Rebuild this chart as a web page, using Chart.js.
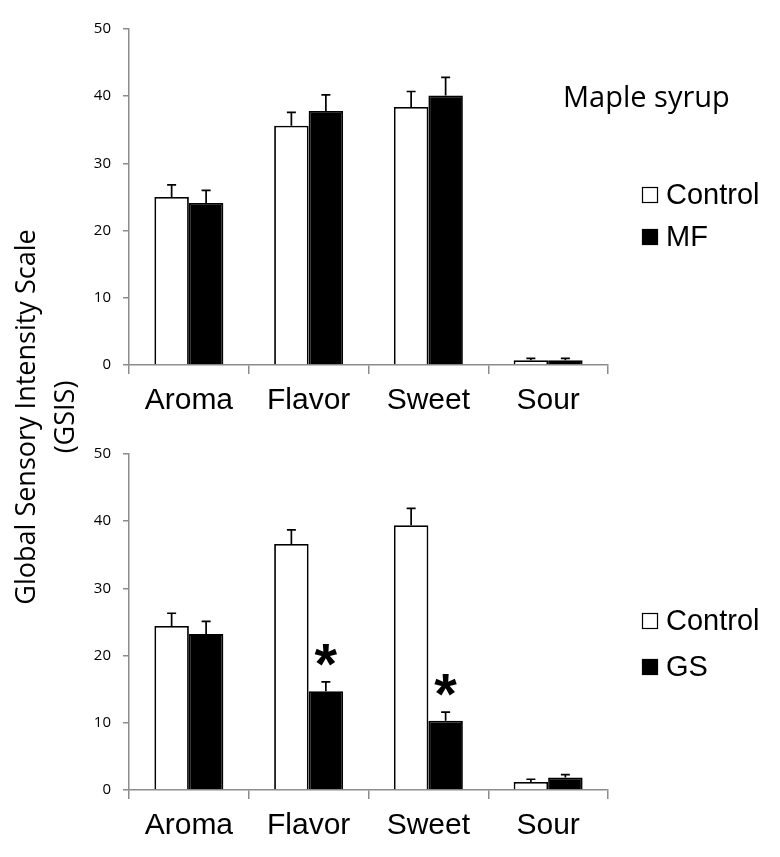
<!DOCTYPE html>
<html><head><meta charset="utf-8">
<script src="https://cdn.jsdelivr.net/npm/chart.js@4.4.1/dist/chart.umd.min.js"></script>
<style>
html,body{margin:0;padding:0;background:#fff;}
#wrap{position:relative;width:780px;height:857px;overflow:hidden;background:#fff;}
canvas{position:absolute;left:0;}
#ytitle{position:absolute;left:43.5px;top:417px;width:560px;margin-left:-280px;margin-top:-39px;height:78px;line-height:39px;text-align:center;transform:rotate(-90deg);font-family:"Open Sans";font-size:27px;color:#000;white-space:nowrap;}
</style></head>
<body><div id="wrap">
<canvas id="topChart" width="780" height="425" style="top:0"></canvas>
<canvas id="bottomChart" width="780" height="425" style="top:425px"></canvas>
<div id="ytitle">Global Sensory Intensity Scale<br>(GSIS)</div>
</div>
<script>
// ---- data ----
const categories = ['Aroma', 'Flavor', 'Sweet', 'Sour'];
const yTicks = [0, 10, 20, 30, 40, 50];
const mapleTitle = 'Maple syrup';
// top panel (Control vs MF)
const controlTopValues = [25.0, 35.6, 38.4, 0.7];
const controlTopErr = [1.8, 2.0, 2.3, 0.3];
const mfValues = [24.1, 37.8, 40.1, 0.7];
const mfErr = [1.9, 2.4, 2.7, 0.3];
// bottom panel (Control vs GS)
const controlBottomValues = [24.4, 36.6, 39.4, 1.2];
const controlBottomErr = [1.9, 2.1, 2.5, 0.4];
const gsValues = [23.2, 14.7, 10.3, 1.85];
const gsErr = [1.9, 1.4, 1.3, 0.45];
const gsSignificant = [false, true, true, false];

// ---- plugins ----
const errorBarPlugin = {
  id: 'errorBars',
  afterDatasetsDraw(chart) {
    const ctx = chart.ctx, ys = chart.scales.y;
    chart.data.datasets.forEach((ds, i) => {
      if (!ds.errors) return;
      const meta = chart.getDatasetMeta(i);
      meta.data.forEach((bar, j) => {
        const v = ds.data[j], e = ds.errors[j];
        const yTop = ys.getPixelForValue(v + e), yBase = ys.getPixelForValue(v);
        ctx.save();
        ctx.strokeStyle = '#000'; ctx.lineWidth = 1.7;
        ctx.beginPath();
        ctx.moveTo(bar.x, yBase); ctx.lineTo(bar.x, yTop);
        ctx.moveTo(bar.x - 4.5, yTop); ctx.lineTo(bar.x + 4.5, yTop);
        ctx.stroke();
        if (ds.sig && ds.sig[j]) {
          ctx.font = 'bold 58px "Liberation Sans"';
          ctx.fillStyle = '#000';
          ctx.textAlign = 'center';
          ctx.textBaseline = 'alphabetic';
          const m = ctx.measureText('*');
          const cy = yTop - 27;
          ctx.fillText('*', bar.x, cy + (m.actualBoundingBoxAscent - m.actualBoundingBoxDescent) / 2);
        }
        ctx.restore();
      });
    });
  }
};

const panelPlugin = {
  id: 'panelLegend',
  afterDraw(chart, args, opts) {
    const ctx = chart.ctx;
    ctx.save();
    if (opts.title) {
      ctx.font = '29px "Open Sans"';
      ctx.fillStyle = '#000';
      ctx.textAlign = 'left';
      ctx.textBaseline = 'alphabetic';
      ctx.fillText(opts.title, 563, 107);
    }
    ctx.font = '29px "Liberation Sans"';
    ctx.textAlign = 'left';
    ctx.textBaseline = 'middle';
    chart.data.datasets.forEach((ds, i) => {
      const cy = opts.rows[i];
      ctx.fillStyle = ds.backgroundColor;
      ctx.fillRect(642, cy - 8, 16, 16);
      ctx.strokeStyle = '#000'; ctx.lineWidth = 1.2;
      ctx.strokeRect(642.5, cy - 7.5, 15, 15);
      ctx.fillStyle = '#000';
      ctx.fillText(ds.label, 666, cy + 1);
    });
    ctx.restore();
  }
};

function makeChart(id, datasets, title, rows) {
  return new Chart(document.getElementById(id), {
    type: 'bar',
    data: { labels: categories, datasets },
    options: {
      responsive: false,
      animation: false,
      devicePixelRatio: 1,
      layout: { padding: { left: 0, right: 172, top: 29, bottom: 0 } },
      datasets: { bar: { categoryPercentage: 0.576, barPercentage: 1 } },
      plugins: {
        legend: { display: false },
        tooltip: { enabled: false },
        panelLegend: { title, rows }
      },
      scales: {
        x: {
          grid: { display: true, drawOnChartArea: false, drawTicks: true, tickLength: 9, color: '#8c8c8c', lineWidth: 1.5, offset: true },
          border: { color: '#8c8c8c', width: 1.5 },
          ticks: { font: { family: 'Liberation Sans', size: 30 }, color: '#000', padding: 9, maxRotation: 0 },
          afterFit(s) { s.height = 60; }
        },
        y: {
          min: 0, max: 50,
          afterBuildTicks(s) { s.ticks = yTicks.map(v => ({ value: v })); },
          ticks: { font: { family: 'Open Sans', size: 15 }, color: '#000', padding: 12 },
          grid: { drawOnChartArea: false, drawTicks: true, tickLength: 6, color: '#8c8c8c', lineWidth: 1.5 },
          border: { color: '#8c8c8c', width: 1.5 },
          afterFit(s) { s.width = 129; }
        }
      }
    },
    plugins: [errorBarPlugin, panelPlugin]
  });
}

function draw() {
  makeChart('topChart', [
    { label: 'Control', data: controlTopValues, errors: controlTopErr, backgroundColor: '#ffffff', borderColor: '#000', borderWidth: 1.8 },
    { label: 'MF', data: mfValues, errors: mfErr, backgroundColor: '#000000', borderColor: '#000', borderWidth: 1.8 }
  ], mapleTitle, [195, 237]);
  makeChart('bottomChart', [
    { label: 'Control', data: controlBottomValues, errors: controlBottomErr, backgroundColor: '#ffffff', borderColor: '#000', borderWidth: 1.8 },
    { label: 'GS', data: gsValues, errors: gsErr, sig: gsSignificant, backgroundColor: '#000000', borderColor: '#000', borderWidth: 1.8 }
  ], null, [196, 242]);
}

Promise.all([
  document.fonts.load('15px "Open Sans"'),
  document.fonts.load('28px "Liberation Sans"'),
  document.fonts.load('bold 56px "Liberation Sans"')
]).then(draw, draw);
</script>
</body></html>
